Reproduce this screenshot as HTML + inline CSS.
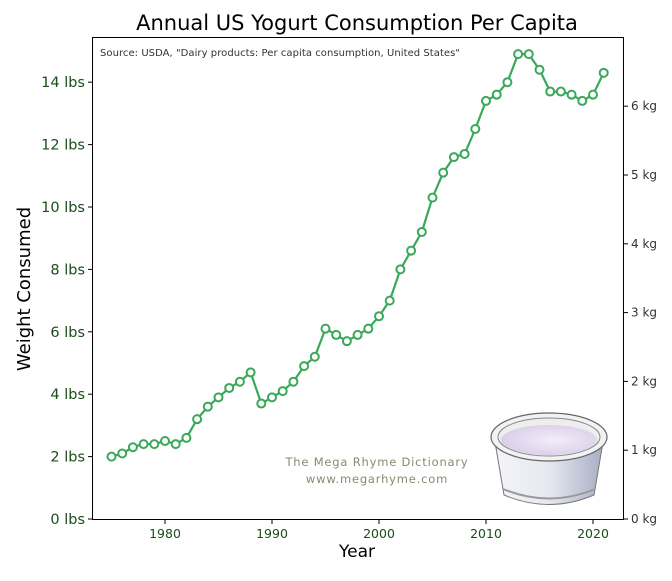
<!DOCTYPE html>
<html><head><meta charset="utf-8"><style>
body{margin:0;background:#fff;}
svg text{font-family:"DejaVu Sans","Liberation Sans",sans-serif;}
</style></head><body>
<svg id="s" width="672" height="576" xmlns="http://www.w3.org/2000/svg">
<defs>
<linearGradient id="bd" x1="0" x2="1" y1="0" y2="0">
<stop offset="0" stop-color="#f4f5f8"/><stop offset="0.5" stop-color="#e6e8f0"/><stop offset="1" stop-color="#a9aec4"/></linearGradient>
<radialGradient id="yo" cx="0.55" cy="0.5" r="0.6"><stop offset="0" stop-color="#f3eef8"/><stop offset="1" stop-color="#d8cce8"/></radialGradient>
</defs>
<text x="357" y="30" font-size="21" text-anchor="middle" fill="#000">Annual US Yogurt Consumption Per Capita</text>
<rect x="92.5" y="37.5" width="531" height="482" fill="none" stroke="#000" stroke-width="1"/>
<text x="100" y="56" font-size="10" fill="#333" textLength="360">Source: USDA, "Dairy products: Per capita consumption, United States"</text>
<g id="ax"></g>
<text x="30" y="289" font-size="18" text-anchor="middle" transform="rotate(-90 30 289)">Weight Consumed</text>
<text x="357" y="557" font-size="17" text-anchor="middle">Year</text>
<text x="377" y="466" font-size="11.5" text-anchor="middle" fill="#8a8a70" letter-spacing="0.8">The Mega Rhyme Dictionary</text>
<text x="377" y="483" font-size="11.5" text-anchor="middle" fill="#8a8a70" letter-spacing="0.8">www.megarhyme.com</text>
<g>
<path d="M495,442 L504,495 Q549,514 594,495 L603,442 Z" fill="url(#bd)" stroke="#777" stroke-width="1"/>
<path d="M503,489 Q549,508 595,489" fill="none" stroke="#999" stroke-width="2"/>
<ellipse cx="549" cy="437" rx="58" ry="24" fill="#f2f2f4" stroke="#666" stroke-width="1.2"/>
<ellipse cx="549" cy="437" rx="51" ry="19" fill="#eee" stroke="#888" stroke-width="1"/>
<ellipse cx="549" cy="440" rx="48" ry="15" fill="url(#yo)"/>
</g>
<g id="d"></g>
</svg>
<script>
var ns="http://www.w3.org/2000/svg",ax=document.getElementById('ax'),d=document.getElementById('d');
function el(t,a,p){var e=document.createElementNS(ns,t);for(var k in a)e.setAttribute(k,a[k]);(p||ax).appendChild(e);return e;}
function Y(v){return 519-v*31.2;}function X(y){return 165+(y-1980)*10.7;}
for(var i=0;i<=14;i+=2){var y=Y(i);el('line',{x1:88,x2:92,y1:y,y2:y,stroke:'#000'});var t=el('text',{x:85,y:y+5,'font-size':14.5,'text-anchor':'end',fill:'#1a4d1a'});t.textContent=i+' lbs';}
for(var k=0;k<=6;k++){var y=519-k*68.8;el('line',{x1:624,x2:628,y1:y,y2:y,stroke:'#000'});var t=el('text',{x:631,y:y+4,'font-size':12,fill:'#333'});t.textContent=k+' kg';}
for(var yr=1980;yr<=2020;yr+=10){var x=X(yr);el('line',{x1:x,x2:x,y1:520,y2:524,stroke:'#000'});var t=el('text',{x:x,y:538,'font-size':12.5,'text-anchor':'middle',fill:'#1a4d1a'});t.textContent=yr;}
var v=[2.0,2.1,2.3,2.4,2.4,2.5,2.4,2.6,3.2,3.6,3.9,4.2,4.4,4.7,3.7,3.9,4.1,4.4,4.9,5.2,6.1,5.9,5.7,5.9,6.1,6.5,7.0,8.0,8.6,9.2,10.3,11.1,11.6,11.7,12.5,13.4,13.6,14.0,14.9,14.9,14.4,13.7,13.7,13.6,13.4,13.6,14.3];
var p='';v.forEach(function(a,i){p+=(i?'L':'M')+X(1975+i).toFixed(1)+','+Y(a).toFixed(1);});
el('path',{d:p,fill:'none',stroke:'#3aa85a','stroke-width':2.2},d);
v.forEach(function(a,i){el('circle',{cx:X(1975+i),cy:Y(a),r:4,fill:'#fff',stroke:'#3aa85a','stroke-width':2},d);});
</script>
</body></html>
